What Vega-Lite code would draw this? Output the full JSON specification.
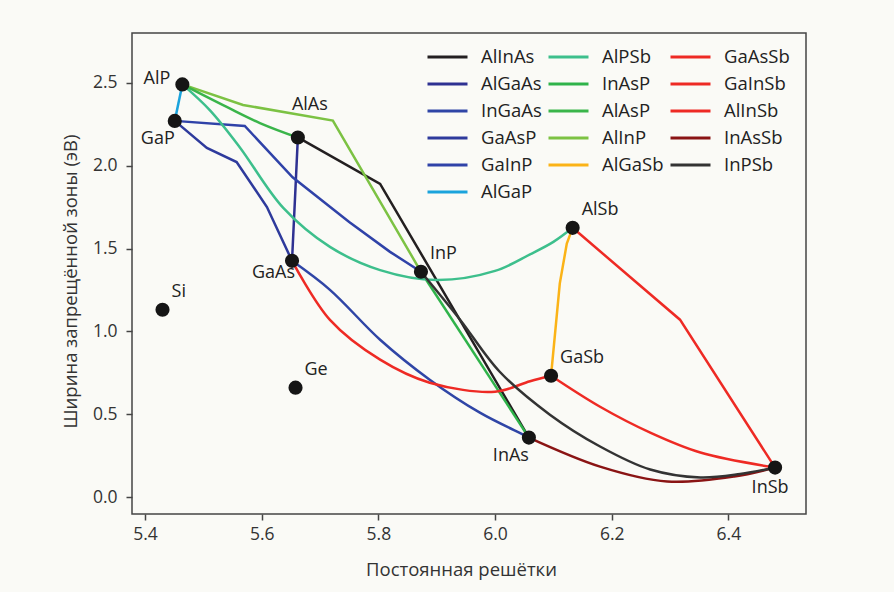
{
  "$schema": "https://vega.github.io/schema/vega-lite/v6.json",
  "autosize": {"type": "none"},
  "padding": {"left": 132, "top": 33, "right": 88, "bottom": 78},
  "width": 674,
  "height": 481,
  "background": "#fafaf6",
  "config": {
    "font": "Open Sans",
    "view": {"stroke": "#444444", "strokeWidth": 1.5},
    "axis": {"domain": false, "grid": false, "tickColor": "#444444", "tickSize": 6, "tickWidth": 1.5, "labelFont": "Open Sans", "labelFontSize": 17.5, "labelColor": "#333333", "titleFont": "Open Sans", "titleFontSize": 18.5, "titleFontWeight": "normal", "titleColor": "#333333"}
  },
  "datasets": {
    "curves": [
      {"a": "AlInAs", "k": 1, "x": 5.662, "y": 2.17},
      {"a": "AlInAs", "k": 2, "x": 5.803, "y": 1.89},
      {"a": "AlInAs", "k": 3, "x": 6.058, "y": 0.36},
      {"a": "AlGaAs", "k": 1, "x": 5.662, "y": 2.17},
      {"a": "AlGaAs", "k": 2, "x": 5.658, "y": 1.87},
      {"a": "AlGaAs", "k": 3, "x": 5.652, "y": 1.426},
      {"a": "InGaAs", "k": 1, "x": 5.652, "y": 1.426},
      {"a": "InGaAs", "k": 2, "x": 5.717, "y": 1.251},
      {"a": "InGaAs", "k": 3, "x": 5.803, "y": 0.95},
      {"a": "InGaAs", "k": 4, "x": 5.888, "y": 0.709},
      {"a": "InGaAs", "k": 5, "x": 5.974, "y": 0.51},
      {"a": "InGaAs", "k": 6, "x": 6.048, "y": 0.378},
      {"a": "InGaAs", "k": 7, "x": 6.058, "y": 0.36},
      {"a": "GaAsP", "k": 1, "x": 5.451, "y": 2.27},
      {"a": "GaAsP", "k": 2, "x": 5.506, "y": 2.107},
      {"a": "GaAsP", "k": 3, "x": 5.557, "y": 2.022},
      {"a": "GaAsP", "k": 4, "x": 5.609, "y": 1.75},
      {"a": "GaAsP", "k": 5, "x": 5.652, "y": 1.426},
      {"a": "GaInP", "k": 1, "x": 5.451, "y": 2.27},
      {"a": "GaInP", "k": 2, "x": 5.571, "y": 2.239},
      {"a": "GaInP", "k": 3, "x": 5.653, "y": 1.93},
      {"a": "GaInP", "k": 4, "x": 5.75, "y": 1.66},
      {"a": "GaInP", "k": 5, "x": 5.82, "y": 1.48},
      {"a": "GaInP", "k": 6, "x": 5.873, "y": 1.36},
      {"a": "AlGaP", "k": 1, "x": 5.464, "y": 2.49},
      {"a": "AlGaP", "k": 2, "x": 5.451, "y": 2.27},
      {"a": "AlPSb", "k": 1, "x": 5.464, "y": 2.49},
      {"a": "AlPSb", "k": 2, "x": 5.511, "y": 2.335},
      {"a": "AlPSb", "k": 3, "x": 5.562, "y": 2.113},
      {"a": "AlPSb", "k": 4, "x": 5.637, "y": 1.745},
      {"a": "AlPSb", "k": 5, "x": 5.717, "y": 1.51},
      {"a": "AlPSb", "k": 6, "x": 5.803, "y": 1.37},
      {"a": "AlPSb", "k": 7, "x": 5.9, "y": 1.31},
      {"a": "AlPSb", "k": 8, "x": 6.0, "y": 1.365},
      {"a": "AlPSb", "k": 9, "x": 6.06, "y": 1.465},
      {"a": "AlPSb", "k": 10, "x": 6.1, "y": 1.54},
      {"a": "AlPSb", "k": 11, "x": 6.133, "y": 1.625},
      {"a": "InAsP", "k": 1, "x": 5.873, "y": 1.36},
      {"a": "InAsP", "k": 2, "x": 6.058, "y": 0.36},
      {"a": "AlAsP", "k": 1, "x": 5.464, "y": 2.49},
      {"a": "AlAsP", "k": 2, "x": 5.54, "y": 2.354},
      {"a": "AlAsP", "k": 3, "x": 5.597, "y": 2.257},
      {"a": "AlAsP", "k": 4, "x": 5.662, "y": 2.17},
      {"a": "AlInP", "k": 1, "x": 5.464, "y": 2.49},
      {"a": "AlInP", "k": 2, "x": 5.568, "y": 2.366},
      {"a": "AlInP", "k": 3, "x": 5.722, "y": 2.272},
      {"a": "AlInP", "k": 4, "x": 5.873, "y": 1.36},
      {"a": "AlGaSb", "k": 1, "x": 6.133, "y": 1.625},
      {"a": "AlGaSb", "k": 2, "x": 6.123, "y": 1.53},
      {"a": "AlGaSb", "k": 3, "x": 6.111, "y": 1.29},
      {"a": "AlGaSb", "k": 4, "x": 6.096, "y": 0.733},
      {"a": "GaAsSb", "k": 1, "x": 5.652, "y": 1.426},
      {"a": "GaAsSb", "k": 2, "x": 5.717, "y": 1.07},
      {"a": "GaAsSb", "k": 3, "x": 5.803, "y": 0.83},
      {"a": "GaAsSb", "k": 4, "x": 5.888, "y": 0.691},
      {"a": "GaAsSb", "k": 5, "x": 6.0, "y": 0.637},
      {"a": "GaAsSb", "k": 6, "x": 6.06, "y": 0.7},
      {"a": "GaAsSb", "k": 7, "x": 6.096, "y": 0.733},
      {"a": "GaInSb", "k": 1, "x": 6.096, "y": 0.733},
      {"a": "GaInSb", "k": 2, "x": 6.18, "y": 0.546},
      {"a": "GaInSb", "k": 3, "x": 6.266, "y": 0.39},
      {"a": "GaInSb", "k": 4, "x": 6.352, "y": 0.27},
      {"a": "GaInSb", "k": 5, "x": 6.48, "y": 0.179},
      {"a": "AlInSb", "k": 1, "x": 6.133, "y": 1.625},
      {"a": "AlInSb", "k": 2, "x": 6.317, "y": 1.071},
      {"a": "AlInSb", "k": 3, "x": 6.48, "y": 0.179},
      {"a": "InAsSb", "k": 1, "x": 6.058, "y": 0.36},
      {"a": "InAsSb", "k": 2, "x": 6.18, "y": 0.185},
      {"a": "InAsSb", "k": 3, "x": 6.295, "y": 0.095},
      {"a": "InAsSb", "k": 4, "x": 6.41, "y": 0.125},
      {"a": "InAsSb", "k": 5, "x": 6.48, "y": 0.179},
      {"a": "InPSb", "k": 1, "x": 5.873, "y": 1.36},
      {"a": "InPSb", "k": 2, "x": 5.94, "y": 1.071},
      {"a": "InPSb", "k": 3, "x": 6.008, "y": 0.757},
      {"a": "InPSb", "k": 4, "x": 6.094, "y": 0.498},
      {"a": "InPSb", "k": 5, "x": 6.18, "y": 0.306},
      {"a": "InPSb", "k": 6, "x": 6.266, "y": 0.167},
      {"a": "InPSb", "k": 7, "x": 6.352, "y": 0.119},
      {"a": "InPSb", "k": 8, "x": 6.42, "y": 0.14},
      {"a": "InPSb", "k": 9, "x": 6.48, "y": 0.179}
    ],
    "pts": [
      {"n": "AlP", "x": 5.464, "y": 2.49},
      {"n": "GaP", "x": 5.451, "y": 2.27},
      {"n": "AlAs", "x": 5.662, "y": 2.17},
      {"n": "GaAs", "x": 5.652, "y": 1.426},
      {"n": "InP", "x": 5.873, "y": 1.36},
      {"n": "AlSb", "x": 6.133, "y": 1.625},
      {"n": "GaSb", "x": 6.096, "y": 0.733},
      {"n": "InAs", "x": 6.058, "y": 0.36},
      {"n": "InSb", "x": 6.48, "y": 0.179},
      {"n": "Si", "x": 5.43, "y": 1.131},
      {"n": "Ge", "x": 5.658, "y": 0.661}
    ]
  },
  "encoding": {
    "x": {"field": "x", "type": "quantitative", "scale": {"domain": [5.3777, 6.533], "nice": false, "zero": false}, "axis": {"values": [5.4, 5.6, 5.8, 6.0, 6.2, 6.4], "format": ".1f", "title": "Постоянная решётки", "labelPadding": 5, "titlePadding": 18, "titleX": 329}},
    "y": {"field": "y", "type": "quantitative", "scale": {"domain": [-0.101, 2.8], "nice": false, "zero": false}, "axis": {"values": [0, 0.5, 1, 1.5, 2, 2.5], "format": ".1f", "title": "Ширина запрещённой зоны (эВ)", "labelPadding": 9, "titlePadding": 12, "titleY": 248}}
  },
  "layer": [
    {
      "data": {"name": "curves"},
      "transform": [{"filter": "indexof(['AlInAs','AlGaAs','GaAsP','GaInP','AlGaP','InAsP','AlInP','AlGaSb','AlInSb'], datum.a) >= 0"}],
      "mark": {"type": "line", "strokeWidth": 2.5},
      "encoding": {
        "color": {"field": "a", "type": "nominal",
          "scale": {
            "domain": ["AlInAs", "AlGaAs", "InGaAs", "GaAsP", "GaInP", "InPSb", "AlPSb", "InAsP", "AlAsP", "AlInP", "AlGaSb", "AlGaP", "GaAsSb", "GaInSb", "AlInSb", "InAsSb"],
            "range": ["#231f20", "#2e3192", "#2f45a6", "#2e3a9c", "#2f42a8", "#333333", "#3dbf8c", "#2fb34a", "#3ab54a", "#7cc243", "#fbb317", "#1aa3dc", "#ee2a24", "#ee2a24", "#ee2a24", "#8a1414"]
          },
          "legend": {"title": null, "orient": "none", "legendX": 294, "legendY": 14, "columns": 3, "symbolType": "stroke", "symbolSize": 1600, "symbolStrokeWidth": 3, "labelFontSize": 18.5, "labelFont": "Open Sans", "labelColor": "#222222", "labelOffset": 12, "columnPadding": 5, "rowPadding": 7, "clipHeight": 20, "padding": 0}
        },
        "order": {"field": "k", "type": "quantitative"}
      }
    },
    {
      "data": {"name": "curves"},
      "transform": [{"filter": "indexof(['InGaAs','AlPSb','AlAsP','GaAsSb','GaInSb','InAsSb','InPSb'], datum.a) >= 0"}],
      "mark": {"type": "line", "strokeWidth": 2.5, "interpolate": "catmull-rom"},
      "encoding": {
        "color": {"field": "a", "type": "nominal"},
        "order": {"field": "k", "type": "quantitative"}
      }
    },
    {
      "data": {"name": "pts"},
      "mark": {"type": "point", "filled": true, "size": 200, "color": "#151515", "opacity": 1},
      "encoding": {}
    },
    {
      "data": {"name": "pts"},
      "transform": [{"filter": "indexof(['InP','AlSb','GaSb','Si','Ge'], datum.n) >= 0"}],
      "mark": {"type": "text", "align": "left", "baseline": "middle", "dx": 9, "dy": -18, "fontSize": 18, "color": "#222222"},
      "encoding": {"text": {"field": "n"}}
    },
    {
      "data": {"name": "pts"},
      "transform": [{"filter": "datum.n == 'AlP'"}],
      "mark": {"type": "text", "align": "right", "baseline": "middle", "dx": -12, "dy": -5, "fontSize": 18, "color": "#222222"},
      "encoding": {"text": {"field": "n"}}
    },
    {
      "data": {"name": "pts"},
      "transform": [{"filter": "datum.n == 'GaP' || datum.n == 'InAs'"}],
      "mark": {"type": "text", "align": "right", "baseline": "middle", "dx": 0, "dy": 18, "fontSize": 18, "color": "#222222"},
      "encoding": {"text": {"field": "n"}}
    },
    {
      "data": {"name": "pts"},
      "transform": [{"filter": "datum.n == 'GaAs'"}],
      "mark": {"type": "text", "align": "right", "baseline": "middle", "dx": 3, "dy": 12, "fontSize": 18, "color": "#222222"},
      "encoding": {"text": {"field": "n"}}
    },
    {
      "data": {"name": "pts"},
      "transform": [{"filter": "datum.n == 'AlAs'"}],
      "mark": {"type": "text", "align": "center", "baseline": "middle", "dx": 12, "dy": -32, "fontSize": 18, "color": "#222222"},
      "encoding": {"text": {"field": "n"}}
    },
    {
      "data": {"name": "pts"},
      "transform": [{"filter": "datum.n == 'InSb'"}],
      "mark": {"type": "text", "align": "center", "baseline": "middle", "dx": -5, "dy": 20, "fontSize": 18, "color": "#222222"},
      "encoding": {"text": {"field": "n"}}
    }
  ]
}
